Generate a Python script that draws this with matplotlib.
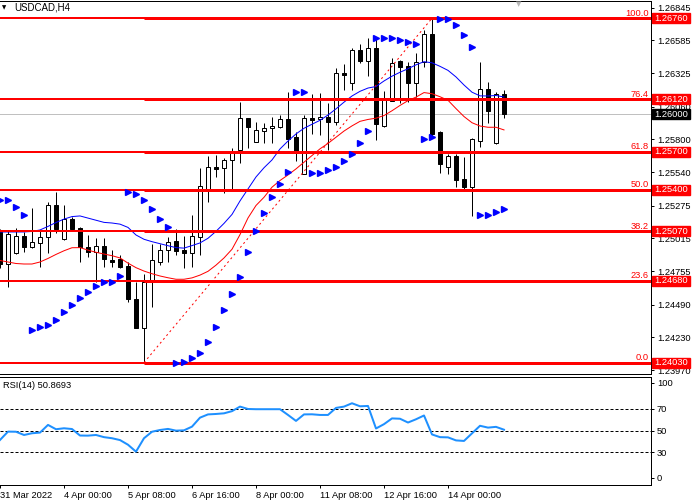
import numpy as np
import matplotlib
matplotlib.use('Agg')
import matplotlib.pyplot as plt
from matplotlib.patches import Rectangle
from matplotlib.transforms import blended_transform_factory

plt.rcParams['font.family'] = ['Liberation Sans', 'DejaVu Sans']

# USDCAD H4 candles
opens = [1.25068, 1.24810, 1.24897, 1.25034, 1.24950, 1.24981, 1.25024, 1.25280, 1.25008, 1.25169,
         1.25095, 1.24950, 1.24910, 1.24955, 1.24844, 1.24850, 1.24796, 1.24533, 1.24307, 1.24672,
         1.24831, 1.24923, 1.24995, 1.24923, 1.24902, 1.25029, 1.25399, 1.25584, 1.25571, 1.25637,
         1.25716, 1.25967, 1.25782, 1.25869, 1.25888, 1.25901, 1.25959, 1.25817, 1.25526, 1.25967,
         1.25959, 1.25975, 1.25940, 1.26324, 1.26245, 1.26509, 1.26424, 1.26522, 1.25909, 1.26107,
         1.26422, 1.26382, 1.26250, 1.26416, 1.26636, 1.25856, 1.25584, 1.25671, 1.25486, 1.25425,
         1.25790, 1.26200, 1.25769, 1.26160]
highs = [1.25090, 1.25074, 1.25095, 1.25068, 1.25254, 1.25082, 1.25301, 1.25381, 1.25280, 1.25183,
         1.25108, 1.25042, 1.25016, 1.25016, 1.24923, 1.24884, 1.24831, 1.24672, 1.24733, 1.24971,
         1.24968, 1.25024, 1.25090, 1.25034, 1.25201, 1.25571, 1.25668, 1.25676, 1.25650, 1.25730,
         1.26099, 1.25972, 1.25940, 1.25932, 1.25980, 1.25993, 1.26173, 1.25856, 1.25993, 1.26160,
         1.26165, 1.26086, 1.26364, 1.26395, 1.26522, 1.26554, 1.26601, 1.26601, 1.26184, 1.26448,
         1.26429, 1.26416, 1.26483, 1.26667, 1.26760, 1.25867, 1.25684, 1.25684, 1.25663, 1.25811,
         1.26416, 1.26257, 1.26178, 1.26192]
lows = [1.24781, 1.24628, 1.24892, 1.24910, 1.24937, 1.24791, 1.24902, 1.25056, 1.25003, 1.25082,
        1.24831, 1.24865, 1.24672, 1.24786, 1.24786, 1.24781, 1.24514, 1.24303, 1.24030, 1.24474,
        1.24804, 1.24831, 1.24884, 1.24778, 1.24791, 1.24884, 1.25306, 1.25504, 1.25373, 1.25399,
        1.25615, 1.25730, 1.25780, 1.25769, 1.25769, 1.25888, 1.25730, 1.25631, 1.25526, 1.25840,
        1.25835, 1.25716, 1.25914, 1.26192, 1.26192, 1.26403, 1.26303, 1.25795, 1.25898, 1.26104,
        1.26086, 1.26099, 1.26134, 1.26372, 1.25809, 1.25536, 1.25526, 1.25425, 1.25399, 1.25195,
        1.25742, 1.25928, 1.25764, 1.25967]
closes = [1.24810, 1.25048, 1.25034, 1.24950, 1.24984, 1.25024, 1.25280, 1.25090, 1.25167, 1.25090,
          1.24950, 1.24910, 1.24955, 1.24854, 1.24831, 1.24786, 1.24533, 1.24307, 1.24672, 1.24844,
          1.24923, 1.24989, 1.24918, 1.24902, 1.25034, 1.25431, 1.25579, 1.25568, 1.25637, 1.25695,
          1.25967, 1.25901, 1.25875, 1.25888, 1.25906, 1.25959, 1.25803, 1.25710, 1.25967, 1.25954,
          1.25975, 1.25940, 1.26324, 1.26311, 1.26509, 1.26424, 1.26522, 1.25920, 1.26112, 1.26403,
          1.26376, 1.26250, 1.26416, 1.26636, 1.25843, 1.25605, 1.25671, 1.25478, 1.25425, 1.25803,
          1.26200, 1.26028, 1.26160, 1.26000]

# moving averages (blue = fast, red = slow)
ma_fast = [1.25066, 1.25066, 1.25066, 1.25066, 1.25070, 1.25082, 1.25110, 1.25141, 1.25168, 1.25188,
           1.25193, 1.25176, 1.25159, 1.25142, 1.25137, 1.25128, 1.25102, 1.25042, 1.25008, 1.24989,
           1.24973, 1.24957, 1.24942, 1.24938, 1.24958, 1.24979, 1.25016, 1.25071, 1.25134, 1.25205,
           1.25312, 1.25407, 1.25502, 1.25575, 1.25637, 1.25724, 1.25787, 1.25843, 1.25888, 1.25920,
           1.25951, 1.25993, 1.26042, 1.26095, 1.26144, 1.26181, 1.26207, 1.26219, 1.26263, 1.26301,
           1.26332, 1.26360, 1.26391, 1.26416, 1.26407, 1.26379, 1.26347, 1.26295, 1.26231, 1.26174,
           1.26145, 1.26144, 1.26148, 1.26136]
ma_slow = [1.24840, 1.24828, 1.24816, 1.24812, 1.24812, 1.24828, 1.24856, 1.24888, 1.24917, 1.24941,
           1.24942, 1.24922, 1.24905, 1.24891, 1.24878, 1.24860, 1.24819, 1.24783, 1.24756, 1.24735,
           1.24717, 1.24703, 1.24691, 1.24691, 1.24702, 1.24724, 1.24754, 1.24803, 1.24860, 1.24929,
           1.25045, 1.25177, 1.25276, 1.25341, 1.25421, 1.25474, 1.25518, 1.25566, 1.25619, 1.25672,
           1.25725, 1.25768, 1.25817, 1.25866, 1.25907, 1.25943, 1.25958, 1.25968, 1.25989, 1.26027,
           1.26069, 1.26107, 1.26135, 1.26171, 1.26162, 1.26138, 1.26110, 1.26044, 1.25981, 1.25932,
           1.25906, 1.25896, 1.25896, 1.25875]

# parabolic SAR
sar = [1.25320, 1.25320, 1.25262, 1.25201, 1.24289, 1.24311, 1.24326, 1.24366, 1.24430, 1.24485,
       1.24540, 1.24588, 1.24636, 1.24667, 1.24667, 1.24715, 1.25381, 1.25365, 1.25317, 1.25246,
       1.25167, 1.25103, 1.24025, 1.24038, 1.24065, 1.24105, 1.24192, 1.24311, 1.24448, 1.24572,
       1.24707, 1.24905, 1.25074, 1.25214, 1.25341, 1.25444, 1.25539, 1.26173, 1.26173, 1.25531,
       1.25531, 1.25555, 1.25579, 1.25629, 1.25682, 1.25771, 1.25864, 1.26601, 1.26601, 1.26601,
       1.26586, 1.26570, 1.26554, 1.25801, 1.25817, 1.26752, 1.26752, 1.26705, 1.26625, 1.26530,
       1.25198, 1.25198, 1.25222, 1.25246]

rsi = [41.4, 49.1, 49.0, 46.0, 47.6, 48.2, 55.3, 51.3, 52.2, 51.5,
       45.5, 45.4, 46.0, 44.0, 43.0, 41.3, 37.0, 30.6, 43.0, 49.0,
       50.6, 51.6, 50.0, 50.3, 53.7, 62.0, 65.0, 65.4, 66.0, 68.0,
       72.2, 70.0, 69.8, 69.8, 69.8, 69.8, 64.5, 59.0, 65.0, 65.1,
       64.5, 64.5, 71.0, 72.2, 75.3, 72.5, 72.8, 52.0, 56.0, 61.3,
       61.0, 57.5, 60.5, 64.0, 46.5, 44.0, 43.8, 41.0, 40.5, 47.5,
       54.5, 52.8, 53.5, 50.87]

level_prices = [1.26760, 1.26120, 1.25700, 1.25400, 1.25070, 1.24680, 1.24030]
level_labels = ['100.0', '76.4', '61.8', '50.0', '38.2', '23.6', '0.0']
bid_price = 1.26000

price_ticks = [1.26845, 1.26585, 1.26325, 1.26060, 1.25800, 1.25540,
               1.25275, 1.25015, 1.24755, 1.24490, 1.24230, 1.23970]
time_ticks = [0, 8, 16, 24, 32, 40, 48, 56]
time_labels = ['31 Mar 2022', '4 Apr 00:00', '5 Apr 08:00', '6 Apr 16:00',
               '8 Apr 00:00', '11 Apr 08:00', '12 Apr 16:00', '14 Apr 00:00']
rsi_ticks = [6.6, 30, 50, 70, 94]
rsi_tick_labels = ['0', '30', '50', '70', '100']

FS = 6.7
PX = 0.72  # one pixel in points

opens, highs, lows, closes = map(np.array, (opens, highs, lows, closes))
x = np.arange(len(closes))

fig = plt.figure(figsize=(7, 5), dpi=100)
ax = fig.add_axes([0, 0.252, 0.93, 0.746])
ax_rsi = fig.add_axes([0, 0.0304, 0.93, 0.2166])

for a in (ax, ax_rsi):
    a.set_xlim(0, 81.375)
    a.spines['left'].set_visible(False)
    for s in ('top', 'right', 'bottom'):
        a.spines[s].set_linewidth(PX)
    a.yaxis.tick_right()
    a.tick_params(axis='both', direction='out', length=2.2, width=PX,
                  pad=2, labelsize=FS, colors='black')

ax.set_ylim(1.23940, 1.26897)
ax.axhline(bid_price, color='#C0C0C0', lw=PX, zorder=1)

# candles
up = closes >= opens
ax.vlines(x, lows, highs, color='black', lw=PX, zorder=2)
ax.bar(x, np.abs(closes - opens), 0.5, bottom=np.minimum(opens, closes),
       color=['white' if u else 'black' for u in up], edgecolor='black',
       linewidth=PX, zorder=2.5)

ax.plot(x, ma_fast, color='#0000FF', lw=PX, zorder=3)
ax.plot(x, ma_slow, color='#FF0000', lw=PX, zorder=3)

# fibonacci from the swing low to the swing high
fib_start = int(np.argmin(lows))
fib_end = int(np.argmax(highs))
ax.plot([fib_start, fib_end], [lows[fib_start], highs[fib_end]],
        color='#FF0000', lw=PX, ls=(0, (2, 3)), zorder=3)
for p in level_prices:
    ax.axhline(p, color='#FF0000', lw=2 * PX, zorder=4)
ax.hlines(level_prices, fib_start, 81.375, color='#FF0000', lw=3 * PX, zorder=4)

ax.plot(x, sar, ls='none', marker='>', ms=4, color='#0000FF', zorder=5)

ax.set_xticks([])
ax.set_yticks(price_ticks)
ax.set_yticklabels(['%.5f' % v for v in price_ticks])

blend = blended_transform_factory(ax.transAxes, ax.transData)
box_h = 10 / 12615
box_w = 38 / 651
for p, lbl in zip(level_prices, level_labels):
    ax.annotate(lbl, xy=(1, p), xycoords=blend, xytext=(-2, 0.5),
                textcoords='offset pixels', ha='right', va='bottom',
                color='#FF0000', fontsize=FS)
    ax.add_patch(Rectangle((1.0015, p - box_h / 2), box_w, box_h, transform=blend,
                           color='#FF0000', clip_on=False, zorder=10))
    ax.text(1.0015 + box_w / 2, p, '%.5f' % p, transform=blend, ha='center',
            va='center', color='white', fontsize=FS, clip_on=False, zorder=11)
ax.add_patch(Rectangle((1.0015, bid_price - box_h / 2), box_w, box_h, transform=blend,
                       color='black', clip_on=False, zorder=10))
ax.text(1.0015 + box_w / 2, bid_price, '%.5f' % bid_price, transform=blend,
        ha='center', va='center', color='white', fontsize=FS, clip_on=False, zorder=11)

# RSI panel
ax_rsi.set_ylim(0, 100)
ax_rsi.plot(x, rsi, color='#1E90FF', lw=2 * PX, zorder=3)
for lvl in (30, 50, 70):
    ax_rsi.axhline(lvl, color='black', lw=PX, ls=(0, (3, 2)), zorder=2)
ax_rsi.set_yticks(rsi_ticks)
ax_rsi.set_yticklabels(rsi_tick_labels)
ax_rsi.set_xticks(time_ticks)
ax_rsi.set_xticklabels(time_labels, ha='left')

fig.text(3 / 700, 1 - 385 / 500, 'RSI(14) 50.8693', fontsize=FS, va='center')
fig.text(14 / 700, 1 - 8 / 500, 'USDCAD,H4', fontsize=7, va='center')
fig.text(2 / 700, 1 - 8 / 500, '\u25bc', fontsize=4, va='center', family='DejaVu Sans')
fig.text(519 / 700, 1 - 4 / 500, '\u25bc', fontsize=5, va='center', ha='center',
         color='#B8B8B8', family='DejaVu Sans')

fig.savefig('out.png', dpi=100, facecolor='white')
